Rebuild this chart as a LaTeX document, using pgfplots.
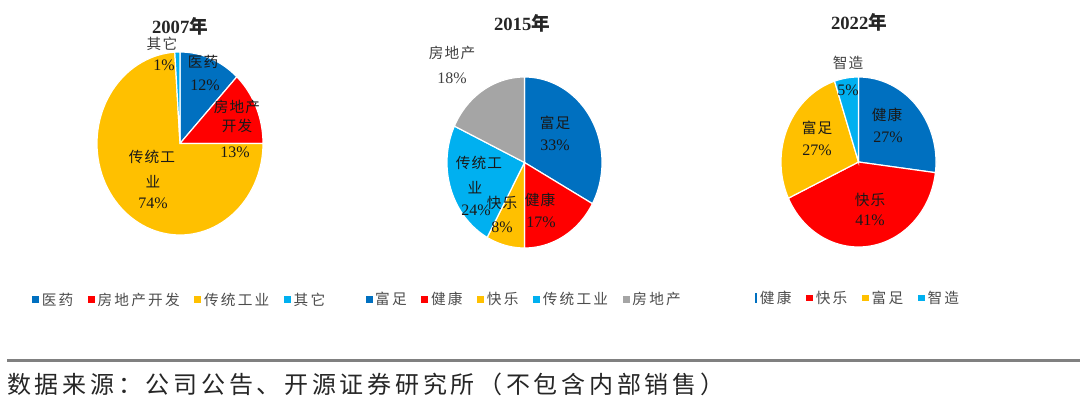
\documentclass[border=0pt]{standalone}
\usepackage{pgfplots}
\pgfplotsset{compat=1.18}
\usepackage{fontspec}
\setmainfont{Liberation Serif}
\newfontfamily\cjk{Noto Sans CJK SC}
\newfontfamily\cjkls{Noto Sans CJK SC}[LetterSpace=8]
\newfontfamily\cjkleg{Noto Sans CJK SC}[LetterSpace=15]
\newfontfamily\cjksrc{Noto Sans CJK SC}[LetterSpace=15.5]
\definecolor{cblue}{HTML}{0070C0}
\definecolor{cred}{HTML}{FF0000}
\definecolor{corange}{HTML}{FFC000}
\definecolor{clblue}{HTML}{00B0F0}
\definecolor{cgray}{HTML}{A5A5A5}

% one pie slice from its share (percent); angles run clockwise from 12 o'clock
\newcommand\slice[3][]{%
  \pgfmathsetmacro\sa{90-3.6*\cum}%
  \pgfmathsetmacro\newcum{\cum+#2}%
  \pgfmathsetmacro\sb{90-3.6*\newcum}%
  \xdef\cum{\newcum}%
  \edef\doslice{\noexpand\addplot[fill=#3, draw=white, line width=0.9pt,
     domain=\sb:\sa, samples=90, \unexpanded{#1}]
     ({cos(x)},{sin(x)}) -- (axis cs:0,0) -- cycle;}%
  \doslice}

\pgfplotsset{
  pie/.style={hide axis, scale only axis, clip=false,
    xmin=-1, xmax=1, ymin=-1, ymax=1,
    legend columns=-1,
    legend image code/.code={\fill[##1, draw=none] (0pt,-2.6pt) rectangle (5.25pt,2.6pt);},
    legend style={draw=none, fill=none, anchor=center,
      font=\fontsize{11}{13}\selectfont\cjkleg, text=black!70,
      /tikz/every even column/.append style={column sep=9pt},
      /tikz/every odd column/.append style={column sep=0pt},
      nodes={inner xsep=2pt, inner ysep=1pt}}
  }
}

\newcommand\lab[4][black!90]{\node[text=#1, inner sep=0pt] at ({#2*0.75pt},{(413-#3)*0.75pt}) {#4};}
\newcommand\zh{\fontsize{11}{13}\selectfont\cjkls}
\newcommand\numf{\fontsize{12}{14}\selectfont}

\begin{document}
\begin{tikzpicture}
\path[use as bounding box] (0,0) rectangle (810pt,309.75pt);

% 2007
\begin{axis}[pie, at={(135pt,202.125pt)}, anchor=center,
  width=124.5pt, height=137.25pt,
  legend style={at={(0.5,-0.355)}}]
\gdef\cum{0}
\slice{12}{cblue}
\slice{13}{cred}
\slice{74}{corange}
\slice{1}{clblue}
\legend{医药,房地产开发,传统工业,其它}
\end{axis}

% 2015
\begin{axis}[pie, at={(393.375pt,187.875pt)}, anchor=center,
  width=116.25pt, height=128.25pt,
  legend style={at={(0.5,-0.30)}}]
\gdef\cum{0}
\slice{33}{cblue}
\slice{17}{cred}
\slice{8}{corange}
\slice{24}{clblue}
\slice{18}{cgray}
\legend{富足,健康,快乐,传统工业,房地产}
\end{axis}

% 2022
\begin{axis}[pie, at={(643.875pt,188.25pt)}, anchor=center,
  width=116.25pt, height=127.5pt,
  legend style={at={(0.5,-0.30)}}]
\gdef\cum{0}
\slice[legend image code/.code={\fill[##1, draw=none] (1.8pt,-3.6pt) rectangle (3.3pt,3.6pt);}]{27}{cblue}
\slice{41}{cred}
\slice{27}{corange}
\slice{5}{clblue}
\legend{健康,快乐,富足,智造}
\end{axis}

% titles
\lab[black!85]{180}{26}{\fontsize{14}{16}\selectfont\bfseries 2007{\cjk 年}}
\lab[black!85]{522}{23}{\fontsize{14}{16}\selectfont\bfseries 2015{\cjk 年}}
\lab[black!85]{859}{22}{\fontsize{14}{16}\selectfont\bfseries 2022{\cjk 年}}

% 2007 labels
\lab[black!75]{162}{44}{\zh 其它}
\lab{164}{65}{\numf 1\%}
\lab{203}{62}{\zh 医药}
\lab{205}{85}{\numf 12\%}
\lab{237}{107}{\zh 房地产}
\lab{237}{126}{\zh 开发}
\lab{235}{152}{\numf 13\%}
\lab{152}{157}{\zh 传统工}
\lab{153}{182}{\zh 业}
\lab{153}{203}{\numf 74\%}

% 2015 labels
\lab[black!75]{452}{53}{\zh 房地产}
\lab[black!75]{452}{78}{\numf 18\%}
\lab{555}{123}{\zh 富足}
\lab{555}{145}{\numf 33\%}
\lab{479}{163}{\zh 传统工}
\lab{475}{188}{\zh 业}
\lab{476}{210}{\numf 24\%}
\lab{502}{203}{\zh 快乐}
\lab{502}{227}{\numf 8\%}
\lab{540}{200}{\zh 健康}
\lab{541}{222}{\numf 17\%}

% 2022 labels
\lab[black!75]{848}{63}{\zh 智造}
\lab{848}{90}{\numf 5\%}
\lab{887}{115}{\zh 健康}
\lab{888}{137}{\numf 27\%}
\lab{817}{128}{\zh 富足}
\lab{817}{150}{\numf 27\%}
\lab{870}{200}{\zh 快乐}
\lab{870}{220}{\numf 41\%}

% rule and source
\draw[color=black!50, line width=2.25pt] ({7*0.75pt},{(413-360.7)*0.75pt}) -- (810pt,{(413-360.7)*0.75pt});
\node[anchor=west, inner sep=0pt, text=black!85] at ({7*0.75pt},{(413-384)*0.75pt})
  {\fontsize{18}{20}\selectfont\cjksrc 数据来源：公司公告、开源证券研究所（不包含内部销售）};
\end{tikzpicture}
\end{document}
